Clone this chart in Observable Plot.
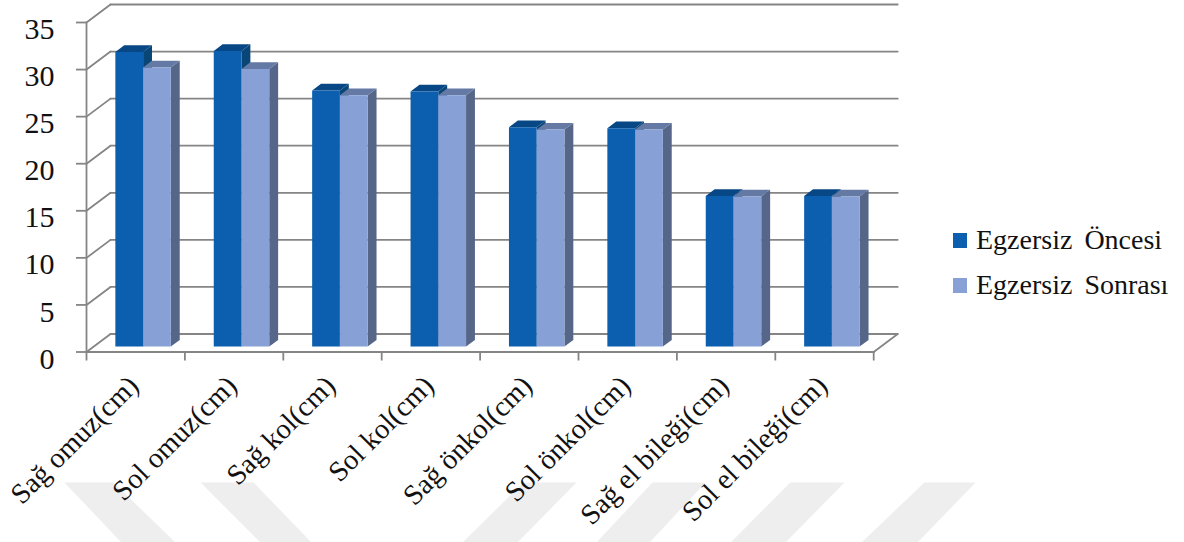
<!DOCTYPE html>
<html lang="tr">
<head>
<meta charset="utf-8">
<title>Egzersiz öncesi ve sonrası ölçümler</title>
<script src="https://cdn.jsdelivr.net/npm/d3@7"></script>
<script src="https://cdn.jsdelivr.net/npm/@observablehq/plot@0.6"></script>
<style>
  html, body { margin: 0; padding: 0; background: #fff; }
  #chart { position: relative; width: 1184px; height: 542px; overflow: hidden; font-family: "Liberation Serif", serif; }
  #chart svg { display: block; position: absolute; left: 0; top: 0; }
  .legend-row { position: absolute; left: 953px; display: flex; align-items: center; color: #111; font-size: 28px; line-height: 30px; white-space: pre; word-spacing: -1px; }
  .legend-row i { display: block; width: 14px; height: 15px; margin-right: 9px; }
</style>
</head>
<body>
<div id="chart"></div>
<script>
// Measurements per body site, in centimetres
const categories = ["Sağ omuz(cm)", "Sol omuz(cm)", "Sağ kol(cm)", "Sol kol(cm)", "Sağ önkol(cm)", "Sol önkol(cm)", "Sağ el bileği(cm)", "Sol el bileği(cm)"];
const oncesi = [31.3, 31.4, 27.2, 27.1, 23.3, 23.2, 16.0, 16.0];
const sonrasi = [29.65, 29.5, 26.7, 26.7, 23.05, 23.05, 15.95, 15.95];
const seriesNames = ["Egzersiz  Öncesi", "Egzersiz  Sonrası"];
const yTicks = [0, 5, 10, 15, 20, 25, 30, 35];
const slotTicks = [0, 1, 2, 3, 4, 5, 6, 7, 8];

// Face colours of each series: front, top, side
const tones = [
  {front: "#0c5eae", top: "#084785", side: "#094678"},
  {front: "#87a1d6", top: "#6479a4", side: "#566688"}
];
const lineTone = "#858585";
const washTone = "#eeeeee";

// Pale chevron bands under the chart, in slot and value units
const washTop = -13.86;
const washBottom = -20.24;
const washBands = [
  [-0.224, 0.274, 0.904, 0.356],
  [1.159, 1.697, 2.287, 1.768],
  [4.441, 4.98, 4.38, 3.821],
  [5.752, 6.291, 5.722, 5.183],
  [7.154, 7.703, 7.104, 6.545],
  [8.516, 9.035, 8.445, 7.876]
];

// Oblique projection: depth 0 is the front of the box, depth 1 the back wall
const deepX = 0.244;
const deepY = 1.912;
const at = (slot, value, depth) => ({x: slot + depth * deepX, y: value + depth * deepY});

// Bar placement inside a slot, in the same units
const barStart = 0.22;
const barWidth = 0.282;
const barNear = 0.3;
const barFar = 0.67;

// Polygons for the three visible faces of every bar; later series paint over earlier ones
const faces = [];
function face(id, fill, corners) {
  corners.forEach((c) => faces.push({...c, id, fill}));
}
[oncesi, sonrasi].forEach((values, s) => {
  values.forEach((v, i) => {
    const x0 = i + barStart + s * barWidth;
    const x1 = x0 + barWidth;
    const id = `${s}-${i}`;
    face(`${id}-side`, tones[s].side, [at(x1, 0, barNear), at(x1, 0, barFar), at(x1, v, barFar), at(x1, v, barNear)]);
    face(`${id}-top`, tones[s].top, [at(x0, v, barNear), at(x1, v, barNear), at(x1, v, barFar), at(x0, v, barFar)]);
    face(`${id}-front`, tones[s].front, [at(x0, 0, barNear), at(x1, 0, barNear), at(x1, v, barNear), at(x0, v, barNear)]);
  });
});

// Back wall rules, left wall diagonals and the floor edge
const frameLines = [];
yTicks.forEach((t) => {
  frameLines.push({...at(0, t, 0), id: `side-${t}`}, {...at(0, t, 1), id: `side-${t}`});
  frameLines.push({...at(0, t, 1), id: `wall-${t}`}, {...at(8, t, 1), id: `wall-${t}`});
});
frameLines.push({...at(8, 0, 0), id: "floor"}, {...at(8, 0, 1), id: "floor"});
frameLines.push({...at(0, 0, 0), id: "base"}, {...at(8, 0, 0), id: "base"});
frameLines.push({...at(0, 0, 0), id: "axis"}, {...at(0, 35, 0), id: "axis"});

const washFaces = washBands.flatMap(([a, b, c, d], i) => [
  {x: a, y: washTop, id: i}, {x: b, y: washTop, id: i}, {x: c, y: washBottom, id: i}, {x: d, y: washBottom, id: i}
]);

const chart = Plot.plot({
  width: 1184,
  height: 542,
  marginLeft: 86,
  marginRight: 310.8,
  marginTop: 22,
  marginBottom: 190.5,
  style: {background: "transparent", fontFamily: "'Liberation Serif', serif", color: "#111"},
  x: {domain: [0, 8], axis: null},
  y: {domain: [0, 35], axis: null},
  color: {type: "identity"},
  marks: [
    Plot.line(washFaces, {x: "x", y: "y", z: "id", fill: washTone}),
    Plot.line(frameLines, {x: "x", y: "y", z: "id", stroke: lineTone, strokeWidth: 1.8}),
    Plot.axisY({ticks: yTicks, tickSize: 10, stroke: lineTone, strokeWidth: 1.8, text: null, label: null}),
    Plot.axisX({ticks: slotTicks, tickSize: 9, stroke: lineTone, strokeWidth: 1.8, text: null, label: null}),
    Plot.line(faces, {x: "x", y: "y", z: "id", fill: "fill"}),
    Plot.axisY({ticks: yTicks, tickSize: 0, tickPadding: 32, dy: 7, fontSize: 30, fill: "#111", label: null, tickFormat: (d) => String(d)}),
    Plot.text(categories, {
      x: (d, i) => i + 0.5,
      y: () => 0,
      text: (d) => d,
      rotate: -45,
      textAnchor: "end",
      dx: -2,
      dy: 29,
      fontSize: 28.5,
      fill: "#111"
    })
  ]
});

const host = document.getElementById("chart");
host.append(chart);

// Series key to the right of the plot
seriesNames.forEach((name, s) => {
  const row = document.createElement("div");
  row.className = "legend-row";
  row.style.top = `${225 + s * 45}px`;
  const swatch = document.createElement("i");
  swatch.style.background = tones[s].front;
  row.append(swatch, name);
  host.append(row);
});
</script>
</body>
</html>
